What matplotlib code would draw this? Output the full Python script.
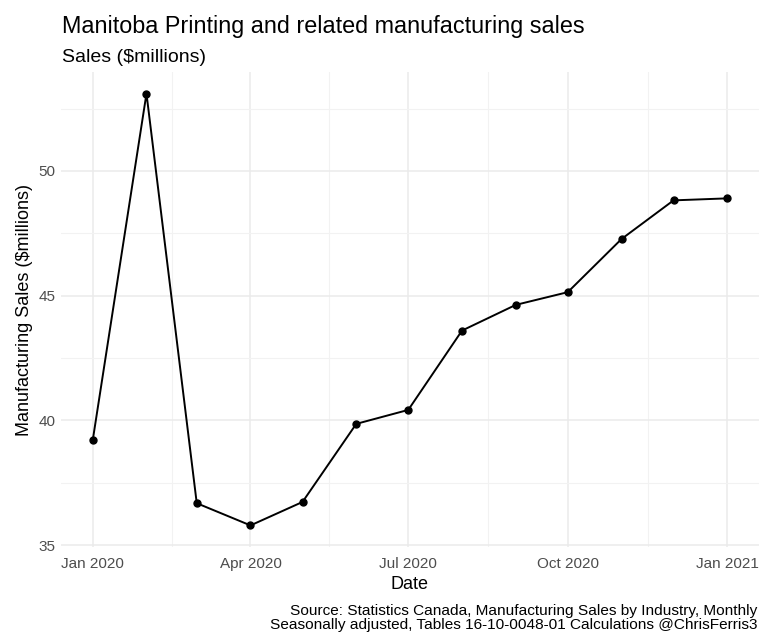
import datetime as dt

import matplotlib
matplotlib.use("Agg")
import matplotlib.dates as mdates
import matplotlib.pyplot as plt
from matplotlib.ticker import FixedLocator, MultipleLocator

plt.rcParams['font.family'] = ['Liberation Sans', 'DejaVu Sans']

# monthly sales, $ millions
months = ['2020-01', '2020-02', '2020-03', '2020-04', '2020-05', '2020-06', '2020-07',
          '2020-08', '2020-09', '2020-10', '2020-11', '2020-12', '2021-01']
sales = [39.20, 53.10, 36.68, 35.79, 36.73, 39.86, 40.42, 43.60, 44.63, 45.14, 47.27, 48.82, 48.90]
x_tick_months = [1, 4, 7, 10]

dates = [dt.datetime.strptime(m, '%Y-%m') for m in months]

fig = plt.figure(figsize=(7.6, 6.35), dpi=100)
ax = fig.add_axes([61 / 760, 88 / 635, 698 / 760, 475 / 635])

ax.plot(dates, sales, color='black', lw=1.4, marker='o', ms=5, zorder=3)
ax.margins(x=0.05, y=0.05)

# grid like theme_minimal
ax.xaxis.set_major_locator(mdates.MonthLocator(bymonth=x_tick_months))
ax.xaxis.set_major_formatter(mdates.DateFormatter('%b %Y'))
fig.canvas.draw()
majors = list(ax.get_xticks())
minors = [(a + b) / 2 for a, b in zip(majors[:-1], majors[1:])]
ax.xaxis.set_minor_locator(FixedLocator(minors))
ax.yaxis.set_major_locator(MultipleLocator(5))
ax.yaxis.set_minor_locator(MultipleLocator(2.5))

ax.grid(which='major', color='#EBEBEB', lw=1.1)
ax.grid(which='minor', color='#F2F2F2', lw=0.8)
ax.set_axisbelow(True)
for s in ax.spines.values():
    s.set_visible(False)
ax.tick_params(which='both', length=0)
ax.tick_params(axis='both', labelsize=11, labelcolor='#4D4D4D')
ax.tick_params(axis='x', pad=7)
ax.tick_params(axis='y', pad=4)

ax.set_xlabel('Date', fontsize=13, labelpad=4)
ax.set_ylabel('Manufacturing Sales ($millions)', fontsize=13, labelpad=4)

fig.text(62 / 760, 1 - 33 / 635, 'Manitoba Printing and related manufacturing sales',
         fontsize=16.8, ha='left', va='baseline')
fig.text(62 / 760, 1 - 62 / 635, 'Sales ($millions)', fontsize=14, ha='left', va='baseline')
fig.text(757 / 760, 1 - 629 / 635,
         'Source: Statistics Canada, Manufacturing Sales by Industry, Monthly\n'
         'Seasonally adjusted, Tables 16-10-0048-01 Calculations @ChrisFerris3',
         fontsize=11.1, ha='right', va='baseline', linespacing=1.0)

fig.savefig('out.png', dpi=100)
